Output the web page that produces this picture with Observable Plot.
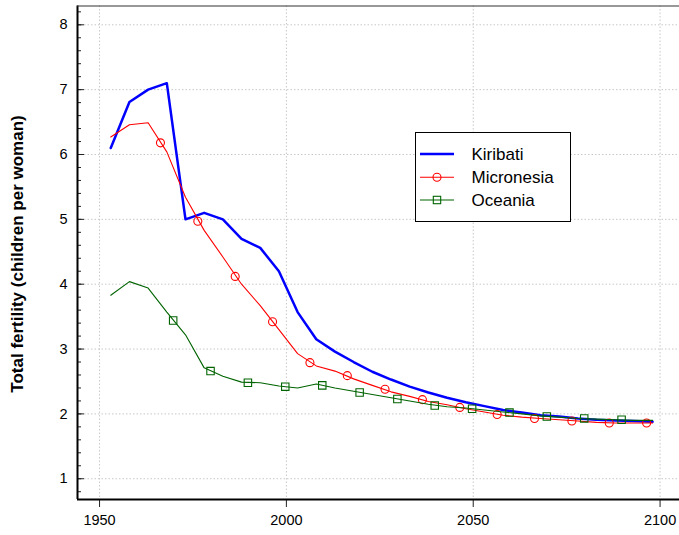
<!DOCTYPE html>
<html><head><meta charset="utf-8">
<script src="https://cdn.jsdelivr.net/npm/d3@7"></script>
<script src="https://cdn.jsdelivr.net/npm/@observablehq/plot@0.6"></script>
<style>
body{margin:0;background:#fff;overflow:hidden}
svg{display:block}
</style>
</head><body><div id="chart"></div>
<script>
const years = [1953,1958,1963,1968,1973,1978,1983,1988,1993,1998,2003,2008,2013,2018,2023,2028,2033,2038,2043,2048,2053,2058,2063,2068,2073,2078,2083,2088,2093,2098];
const kiribati = [6.10,6.81,7.00,7.10,5.00,5.10,5.00,4.70,4.56,4.20,3.57,3.15,2.96,2.80,2.65,2.53,2.42,2.33,2.25,2.18,2.12,2.06,2.02,1.98,1.96,1.93,1.91,1.90,1.89,1.88];
const micronesia = [6.27,6.46,6.49,6.04,5.34,4.83,4.42,4.00,3.67,3.30,2.93,2.74,2.66,2.54,2.44,2.34,2.27,2.19,2.14,2.08,2.03,1.98,1.95,1.93,1.91,1.89,1.87,1.86,1.86,1.86];
const oceania = [3.83,4.04,3.94,3.57,3.22,2.71,2.58,2.49,2.48,2.43,2.40,2.46,2.40,2.35,2.30,2.25,2.20,2.15,2.11,2.09,2.06,2.03,2.00,1.97,1.95,1.93,1.92,1.91,1.90,1.90];
const micronesiaMarkerYears = [1966.3,1976.3,1986.3,1996.3,2006.3,2016.3,2026.4,2036.4,2046.4,2056.4,2066.4,2076.4,2086.4,2096.4];
const micronesiaMarkerValues = [6.18,4.97,4.12,3.42,2.79,2.59,2.38,2.22,2.10,1.99,1.93,1.89,1.86,1.86];
const oceaniaMarkerYears = [1969.7,1979.7,1989.7,1999.7,2009.6,2019.6,2029.7,2039.7,2049.7,2059.7,2069.7,2079.7,2089.7];
const oceaniaMarkerValues = [3.44,2.66,2.48,2.42,2.44,2.33,2.23,2.13,2.08,2.02,1.96,1.93,1.91];
const xTicks = [1950,2000,2050,2100];
const yTicks = [1,2,3,4,5,6,7,8];
const seriesNames = ["Kiribati","Micronesia","Oceania"];
const seriesColors = ["#0000ff","#ff0000","#006400"];
const yLabel = "Total fertility (children per woman)";
const xDomain = [1944.1, 2105.2];
const yDomain = [0.68, 8.29];

const font = "'Liberation Sans', Arial, Helvetica, sans-serif";
const kData = years.map((year,i)=>({year, value:kiribati[i]}));
const mData = years.map((year,i)=>({year, value:micronesia[i]}));
const oData = years.map((year,i)=>({year, value:oceania[i]}));
const mMarks = micronesiaMarkerYears.map((year,i)=>({year, value:micronesiaMarkerValues[i]}));
const oMarks = oceaniaMarkerYears.map((year,i)=>({year, value:oceaniaMarkerValues[i]}));
const minorTicks = d3.range(8, 83, 2).map(d => d/10);
const grid = {stroke:"#c8c8c8", strokeOpacity:1, strokeDasharray:"1.5,2", strokeWidth:1};

const chart = Plot.plot({
  width: 679, height: 535,
  marginLeft: 77, marginRight: 0, marginTop: 5.5, marginBottom: 36,
  style: {fontFamily: font, fontSize: "14.5px", color: "#000", background: "#fff"},
  x: {domain: xDomain},
  y: {domain: yDomain},
  marks: [
    Plot.gridX(xTicks, grid),
    Plot.gridY(yTicks, grid),
    Plot.axisY(minorTicks, {anchor:"left", tickSize:4, dx:4, fill:"none", stroke:"#222", label:null}),
    Plot.axisY(yTicks, {anchor:"left", tickSize:7, dx:7, fill:"none", stroke:"#222", label:null}),
    Plot.axisY(yTicks, {anchor:"left", tickSize:0, tickPadding:10, label:null, fontSize:14.5, tickFormat: d => String(d)}),
    Plot.axisX(xTicks, {anchor:"bottom", tickSize:8, tickPadding:7, stroke:"#222", label:null, fontSize:14.5, tickFormat: d => String(d)}),
    Plot.ruleX([xDomain[0]], {stroke:"#000", strokeWidth:2}),
    Plot.ruleY([yDomain[0]], {stroke:"#000", strokeWidth:2}),
    Plot.ruleY([yDomain[1]], {stroke:"#333", strokeWidth:1.2}),
    Plot.line(kData, {x:"year", y:"value", stroke:seriesColors[0], strokeWidth:2.5}),
    Plot.line(mData, {x:"year", y:"value", stroke:seriesColors[1], strokeWidth:1.1}),
    Plot.dot(mMarks, {x:"year", y:"value", r:4, stroke:seriesColors[1], fill:"none", strokeWidth:1.1}),
    Plot.line(oData, {x:"year", y:"value", stroke:seriesColors[2], strokeWidth:1.1}),
    Plot.dot(oMarks, {x:"year", y:"value", r:4.2, symbol:"square", stroke:seriesColors[2], fill:"none", strokeWidth:1.1})
  ]
});

const svg = d3.select(chart);
svg.append("text")
  .attr("transform", "translate(23,254) rotate(-90)")
  .attr("text-anchor", "middle")
  .attr("font-family", font).attr("font-size", 17).attr("font-weight", "bold")
  .attr("fill", "#000")
  .text(yLabel);

const lg = svg.append("g");
lg.append("rect").attr("x", 415.5).attr("y", 132.5).attr("width", 155).attr("height", 89)
  .attr("fill", "#fff").attr("stroke", "#000").attr("stroke-width", 1);
const rowsY = [154, 177.3, 200];
seriesNames.forEach((name, i) => {
  const y = rowsY[i];
  lg.append("line").attr("x1", 420).attr("x2", 454).attr("y1", y).attr("y2", y)
    .attr("stroke", seriesColors[i]).attr("stroke-width", i === 0 ? 2.5 : 1.1);
  if (i === 1) lg.append("circle").attr("cx", 437).attr("cy", y).attr("r", 4).attr("fill", "none").attr("stroke", seriesColors[i]).attr("stroke-width", 1.1);
  if (i === 2) lg.append("rect").attr("x", 433.3).attr("y", y - 3.7).attr("width", 7.4).attr("height", 7.4).attr("fill", "none").attr("stroke", seriesColors[i]).attr("stroke-width", 1.1);
  lg.append("text").attr("x", 471.5).attr("y", y).attr("dy", "0.35em")
    .attr("text-anchor", "start")
    .attr("font-family", font).attr("font-size", 17).attr("fill", "#000").text(name);
});

document.getElementById("chart").appendChild(chart);
</script>
</body></html>
